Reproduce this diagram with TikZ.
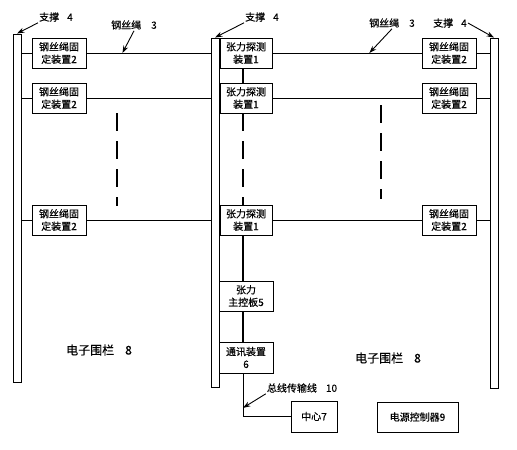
\documentclass[tikz,border=0pt]{standalone}
\usepackage{fontspec}
\setmainfont{Noto Sans CJK SC}[FakeBold=0.4]
\usetikzlibrary{arrows.meta,positioning,calc}
\tikzset{>={Stealth[length=2.6mm,width=1.8mm]},
  post/.style={draw,line width=0.9pt,minimum width=8pt,inner sep=0pt},
  dev/.style={draw,line width=0.9pt,minimum width=54pt,minimum height=30pt,
    inner sep=1pt,align=center,font=\fontsize{10}{12.5}\selectfont},
  tag/.style={font=\fontsize{10}{12}\selectfont,inner sep=1pt},
  bigtag/.style={font=\fontsize{12}{14}\selectfont,inner sep=1pt},
  wire/.style={line width=0.9pt},
  bus/.style={line width=2.4pt},
  busdash/.style={line width=2.4pt,dash pattern=on 18pt off 10pt},
  callout/.style={->,line width=0.9pt}}
\begin{document}
\begin{tikzpicture}[x=1pt,y=-1pt]
\useasboundingbox (0,0) rectangle (517,450);
% posts
\node[post,minimum height=348pt] (postL) at (17,208) {};
\node[post,minimum height=349pt] (postM) at (215,212.5) {};
\node[post,minimum height=350pt] (postR) at (494,213) {};
\coordinate (busx) at (243,0);
% rope rows
\foreach \r/\y in {A/53,B/98,C/220}{
  \node[dev] (fixL\r) at (59,\y) {钢丝绳固\\定装置2};
  \node[dev,minimum width=52pt] (ten\r) at (246,\y) {张力探测\\装置1};
  \node[dev] (fixR\r) at (449,\y) {钢丝绳固\\定装置2};
  \draw[wire] (postL.east |- fixL\r.west) -- (fixL\r.west);
  \draw[wire] (fixL\r.east) -- (fixL\r.east -| postM.west);
  \draw[wire] (ten\r.east) -- (fixR\r.west);
  \draw[wire] (fixR\r.east) -- (fixR\r.east -| postR.west);
}
\path (fixLA.east) -- (fixLA.east -| postM.west) coordinate[pos=0.29] (ropeL);
\path (tenA.east) -- (fixRA.west) coordinate[pos=0.65] (ropeR);
% omitted rows
\draw[busdash] (117,113) -- (117,206);
\draw[busdash] (381,105) -- (381,199);
% control chain
\node[dev] (main) at (246,296) {张力\\主控板5};
\node[dev,minimum height=31pt] (comm) at (246,357.5) {通讯装置\\6};
\node[dev,minimum width=46pt,minimum height=31pt] (center) at (314,416.5) {中心7};
\node[dev,minimum width=81pt] (power) at (417.5,417) {电源控制器9};
\draw[bus] (tenA.south -| busx) -- (tenB.north -| busx);
\draw[busdash] (tenB.south -| busx) -- (tenC.north -| busx);
\draw[bus] (tenC.south -| busx) -- (main.north -| busx);
\draw[bus] (main.south -| busx) -- (comm.north -| busx);
\draw[wire] (comm.south -| busx) |- (center.west);
\path (comm.south -| busx) -- (busx |- center.west) coordinate[pos=0.8] (busTip);
% labels
\node[tag] (supL) at (56,17) {支撑\hspace{8pt}4};
\node[tag] (supM) at (262,17) {支撑\hspace{8pt}4};
\node[tag] (supR) at (450,23) {支撑\hspace{8pt}4};
\node[tag] (wireL) at (134,25) {钢丝绳\hspace{10pt}3};
\node[tag] (wireR) at (392,23) {钢丝绳\hspace{10pt}3};
\node[tag] (line) at (302,388) {总线传输线\hspace{9pt}10};
\draw[callout] (supL.south west) -- (postL.north);
\draw[callout] (supM.south west) -- (postM.north);
\draw[callout] (supR.east) -- (postR.north);
\draw[callout] (wireL.south) -- (ropeL);
\draw[callout] (wireR.south) -- (ropeR);
\draw[callout] (line.south west) -- (busTip);
\node[bigtag] (fenceL) at (99,350) {电子围栏\hspace{11pt}8};
\node[bigtag] (fenceR) at (388,358) {电子围栏\hspace{11pt}8};
\end{tikzpicture}
\end{document}
